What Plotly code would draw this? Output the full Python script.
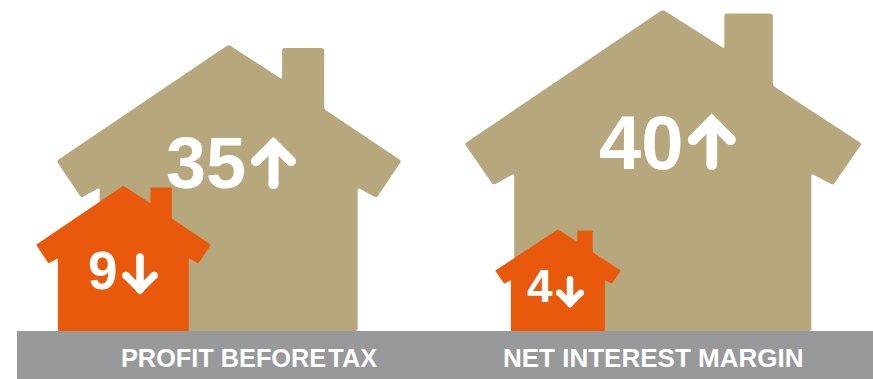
import math
import plotly.graph_objects as go

# Scores shown on each house
panels = ["PROFIT BEFORE\u200aTAX", "NET INTEREST MARGIN"]
up_values = [35, 40]
down_values = [9, 4]

TAN = "#B6A87C"
ORANGE = "#E8590B"
GREY = "#98999B"
FONT = "Liberation Sans"

GROUND_Y = 331
PANEL_LABEL_X = [249.2, 653]
PANEL_LABEL_SIZE = [25.3, 26]
UP_CENTRE_X = [229, 663.2]
DOWN_CENTRE_X = [123.5, 558]
# House size per square root of score, so that area tracks the score
UNIT_W = [58.3, 62.8]
UNIT_H = [48.4, 50.8]
# The tall house on the right has slightly lower eaves
EAVE_DROP = {40: 0.011}

# House outline as fractions of width and height, clockwise from the lower left wall
HOUSE_X = [0.125, 0.125, 0.072, 0.0, 0.499, 0.654, 0.654, 0.776, 0.776, 1.0, 0.928, 0.873, 0.873]
HOUSE_Y = [0.0, 0.501, 0.465, 0.594, 1.0, 0.879, 0.988, 0.988, 0.775, 0.594, 0.465, 0.501, 0.0]
EAVE_POINTS = {1, 2, 3, 8, 9, 10, 11}


def round_corners(xs, ys, radius, steps=5):
    # Swap every vertex of a closed polygon for a short quadratic curve
    out_x, out_y = [], []
    n = len(xs)
    for i in range(n):
        px, py = xs[i], ys[i]
        ax, ay = xs[i - 1] - px, ys[i - 1] - py
        bx, by = xs[(i + 1) % n] - px, ys[(i + 1) % n] - py
        la, lb = math.hypot(ax, ay), math.hypot(bx, by)
        r = min(radius, la / 2, lb / 2)
        sx, sy = px + ax / la * r, py + ay / la * r
        ex, ey = px + bx / lb * r, py + by / lb * r
        for k in range(steps + 1):
            t = k / steps
            out_x.append((1 - t) ** 2 * sx + 2 * t * (1 - t) * px + t ** 2 * ex)
            out_y.append((1 - t) ** 2 * sy + 2 * t * (1 - t) * py + t ** 2 * ey)
    return out_x + out_x[:1], out_y + out_y[:1]


def house(value, centre, panel, colour, radius):
    root = math.sqrt(value)
    width = UNIT_W[panel] * root
    height = UNIT_H[panel] * root
    drop = EAVE_DROP.get(value, 0)
    xs = [centre + (fx - 0.5) * width for fx in HOUSE_X]
    ys = [
        GROUND_Y - (fy - (drop if i in EAVE_POINTS else 0)) * height
        for i, fy in enumerate(HOUSE_Y)
    ]
    xs, ys = round_corners(xs, ys, radius)
    return go.Scatter(
        x=xs, y=ys, mode="lines", fill="toself",
        fillcolor=colour, line=dict(color=colour, width=0, simplify=False),
        hoverinfo="skip", showlegend=False,
    )


def arrow(centre, top, width, height, thick, pointing_up):
    # A stem and chevron stroked with round ends
    reach = width / 2 - thick / 2
    if pointing_up:
        tip, tail, wing = top + thick / 2, top + height - thick / 2, top + thick / 2 + reach
    else:
        tip, tail, wing = top + height - thick / 2, top + thick / 2, top + height - thick / 2 - reach
    xs = [centre, centre, None, centre - reach, centre, centre + reach]
    ys = [tail, tip, None, wing, tip, wing]
    return go.Scatter(
        x=xs, y=ys, mode="lines+markers",
        line=dict(color="white", width=thick, simplify=False),
        marker=dict(color="white", size=thick, line=dict(width=0)),
        hoverinfo="skip", showlegend=False,
    )


fig = go.Figure()
for i in range(2):
    fig.add_trace(house(up_values[i], UP_CENTRE_X[i], i, TAN, 2.5))
for i in range(2):
    fig.add_trace(house(down_values[i], DOWN_CENTRE_X[i], i, ORANGE, 1))

fig.add_trace(arrow(273.5, 138.7, 45, 50.6, 10, True))
fig.add_trace(arrow(711.8, 115.7, 48, 54.3, 10.7, True))
fig.add_trace(arrow(140, 253.3, 35.7, 40, 7.5, False))
fig.add_trace(arrow(570, 276, 28, 30.7, 6.5, False))

# Ground strip runs beneath both houses and carries the panel names
fig.add_shape(type="rect", x0=17, x1=873, y0=GROUND_Y, y1=379,
              fillcolor=GREY, line=dict(width=0), layer="above")


def label(text, x, y, size):
    fig.add_annotation(
        x=x, y=y, text=text, showarrow=False, xanchor="center", yanchor="middle",
        font=dict(family=FONT, size=size, color="white", weight="bold"),
    )


label(str(up_values[0]), 205.5, 163, 72)
label(str(up_values[1]), 641.5, 142, 76)
label(str(down_values[0]), 102, 270, 53)
label(str(down_values[1]), 540, 286, 46)
for name, x, size in zip(panels, PANEL_LABEL_X, PANEL_LABEL_SIZE):
    label(name, x, 358, size)

fig.update_layout(
    width=873, height=379,
    margin=dict(l=0, r=0, t=0, b=0),
    paper_bgcolor="white", plot_bgcolor="white",
    xaxis=dict(range=[0, 873], visible=False, fixedrange=True),
    yaxis=dict(range=[379, 0], visible=False, fixedrange=True),
    showlegend=False,
)
fig.write_html("out.html", config={"displayModeBar": False})
